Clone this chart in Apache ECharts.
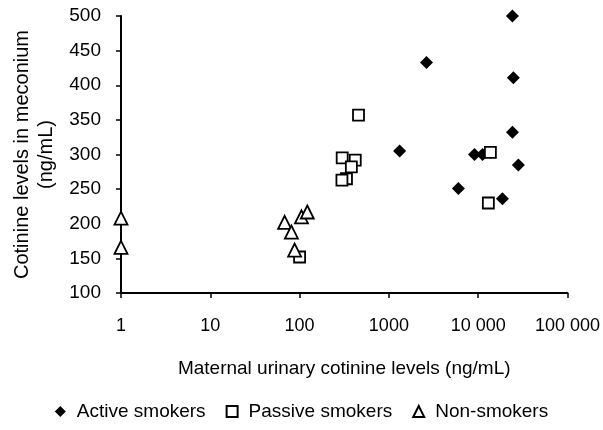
<!DOCTYPE html>
<html>
<head>
<meta charset="utf-8">
<script src="https://cdn.jsdelivr.net/npm/echarts@6/dist/echarts.min.js"></script>
<style>
  html, body { margin: 0; padding: 0; background: #fff; }
  #main { width: 603px; height: 430px; }
</style>
</head>
<body>
<div id="main"></div>
<script>
// [maternal urinary cotinine (ng/mL), meconium cotinine (ng/mL)]
var activeSmokers = [
  [24200, 500], [2640, 433], [24800, 411], [24200, 332], [1320, 305],
  [9100, 300], [11200, 300], [28200, 285], [6000, 251], [18700, 236]
];
var passiveSmokers = [
  [457, 357], [300, 295], [420, 292], [380, 282], [335, 265],
  [298, 263], [13700, 303], [13000, 230], [100, 152]
];
var nonSmokers = [
  [1, 208], [1, 166], [68, 202], [81, 188], [105, 210],
  [122, 217], [88, 162]
];
var xTickLabels = { 1: '1', 10: '10', 100: '100', 1000: '1000', 10000: '10 000', 100000: '100 000' };

var chartDom = document.getElementById('main');
var myChart = echarts.init(chartDom);
var font = 'Liberation Sans, Arial, sans-serif';

var option = {
  animation: false,
  textStyle: { fontFamily: font, color: '#000' },
  grid: { left: 121, right: 35, top: 16, bottom: 137 },
  legend: {
    bottom: 4,
    left: 'center',
    itemGap: 20,
    itemWidth: 11,
    itemHeight: 11,
    textStyle: { fontFamily: font, fontSize: 19, color: '#000', padding: [0, 0, 0, 6] },
    data: ['Active smokers', 'Passive smokers', 'Non-smokers']
  },
  xAxis: {
    type: 'log',
    logBase: 10,
    min: 1,
    max: 100000,
    name: 'Maternal urinary cotinine levels (ng/mL)',
    nameLocation: 'middle',
    nameGap: 66,
    nameTextStyle: { fontFamily: font, fontSize: 19, color: '#000' },
    axisLine: { lineStyle: { color: '#000', width: 2 } },
    axisTick: { inside: false, length: 5, lineStyle: { color: '#000', width: 1.5 } },
    axisLabel: {
      margin: 24, fontSize: 18, color: '#000', fontFamily: font,
      formatter: function (v) { return xTickLabels[Math.round(v)] || ''; }
    },
    splitLine: { show: false }
  },
  yAxis: {
    type: 'value',
    min: 100,
    max: 500,
    interval: 50,
    name: 'Cotinine levels in meconium\n(ng/mL)',
    nameLocation: 'middle',
    nameRotate: 90,
    nameGap: 57,
    nameTextStyle: { fontFamily: font, fontSize: 20, color: '#000', lineHeight: 24 },
    axisLine: { show: true, lineStyle: { color: '#000', width: 2 } },
    axisTick: { show: true, length: 5, lineStyle: { color: '#000', width: 1.5 } },
    axisLabel: { margin: 20, fontSize: 19, color: '#000', fontFamily: font },
    splitLine: { show: false }
  },
  series: [
    {
      name: 'Active smokers',
      type: 'scatter',
      symbol: 'diamond',
      symbolSize: 13,
      itemStyle: { color: '#000', opacity: 1 },
      data: activeSmokers
    },
    {
      name: 'Passive smokers',
      type: 'scatter',
      symbol: 'rect',
      symbolSize: 11,
      itemStyle: { color: '#fff', borderColor: '#000', borderWidth: 1.8, opacity: 1 },
      data: passiveSmokers
    },
    {
      name: 'Non-smokers',
      type: 'scatter',
      symbol: 'triangle',
      symbolSize: 13,
      itemStyle: { color: '#fff', borderColor: '#000', borderWidth: 1.8, opacity: 1 },
      data: nonSmokers
    }
  ]
};
option && myChart.setOption(option);
</script>
</body>
</html>
